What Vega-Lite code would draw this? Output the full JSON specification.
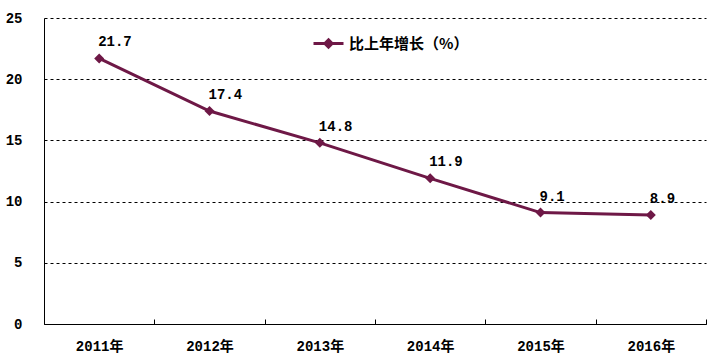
{
  "$schema": "https://vega.github.io/schema/vega-lite/v6.json",
  "width": 662,
  "height": 306,
  "autosize": {"type": "none"},
  "padding": {"left": 44, "top": 18, "right": 7, "bottom": 35},
  "background": "white",
  "config": {"view": {"stroke": null}},
  "data": {"values": [
    {"year": "2011年", "growth": 21.7},
    {"year": "2012年", "growth": 17.4},
    {"year": "2013年", "growth": 14.8},
    {"year": "2014年", "growth": 11.9},
    {"year": "2015年", "growth": 9.1},
    {"year": "2016年", "growth": 8.9}
  ]},
  "encoding": {
    "x": {
      "field": "year", "type": "ordinal", "sort": null,
      "scale": {"type": "band", "paddingInner": 0, "paddingOuter": 0},
      "bandPosition": 0.5,
      "axis": {
        "title": null, "labelAngle": 0, "tickBand": "extent",
        "domainColor": "black", "domainWidth": 1,
        "tickColor": "black", "tickSize": -5, "labelPadding": 20,
        "labelFont": "Liberation Mono, Noto Sans CJK SC", "labelFontWeight": "bold",
        "labelFontSize": 14, "labelColor": "black", "labelBaseline": "top", "grid": false
      }
    },
    "y": {
      "field": "growth", "type": "quantitative",
      "scale": {"domain": [0, 25], "nice": false},
      "axis": {
        "title": null, "values": [0, 5, 10, 15, 20, 25],
        "ticks": false, "labelPadding": 22,
        "domainColor": "black", "domainWidth": 1,
        "grid": true, "gridColor": "black", "gridDash": [3, 3], "gridWidth": 1, "gridOpacity": 1,
        "labelFont": "Liberation Mono", "labelFontWeight": "bold",
        "labelFontSize": 14, "labelColor": "black"
      }
    }
  },
  "layer": [
    {
      "mark": {"type": "line", "strokeWidth": 3},
      "encoding": {
        "color": {
          "datum": "比上年增长（%）",
          "scale": {"range": ["#6E1846"]},
          "legend": {
            "title": null, "orient": "none", "legendX": 268, "legendY": 9,
            "padding": 0, "symbolType": "M-1,0H1M0,-0.24L0.24,0L0,0.24L-0.24,0Z",
            "symbolSize": 900, "symbolStrokeWidth": 3, "symbolFillColor": "#6E1846",
            "labelFont": "Noto Sans CJK SC", "labelFontWeight": "bold",
            "labelFontSize": 15, "labelColor": "black", "labelOffset": 4
          }
        }
      }
    },
    {
      "mark": {"type": "point", "shape": "diamond", "filled": true, "size": 100, "color": "#6E1846", "opacity": 1}
    },
    {
      "mark": {"type": "text", "align": "left", "baseline": "middle", "dx": -1, "dy": -16,
        "font": "Liberation Mono", "fontWeight": "bold", "fontSize": 14, "color": "black"},
      "encoding": {"text": {"field": "growth", "type": "quantitative", "format": ".1f"}}
    }
  ]
}
